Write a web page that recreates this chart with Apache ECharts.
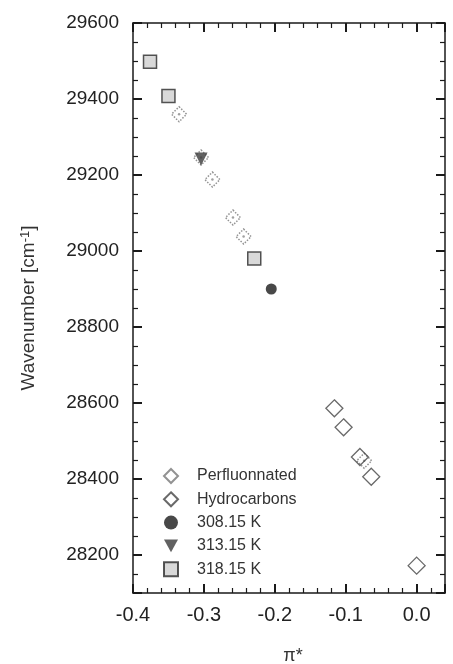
<!DOCTYPE html>
<html>
<head>
<meta charset="utf-8">
<script src="https://cdn.jsdelivr.net/npm/echarts@6/dist/echarts.min.js"></script>
<style>html,body{margin:0;padding:0;background:#fff}#c{width:453px;height:664px}</style>
</head>
<body>
<div id="c"></div>
<script>
// ---- data ----
const perfluorinated = [[-0.335, 29360], [-0.304, 29246], [-0.288, 29188], [-0.259, 29088], [-0.244, 29038], [-0.074, 28448]];
const hydrocarbons = [[-0.116, 28586], [-0.103, 28536], [-0.080, 28458], [-0.064, 28406], [0.0, 28172]];
const k308 = [[-0.205, 28900]];
const k313 = [[-0.304, 29242]];
const k318 = [[-0.376, 29498], [-0.350, 29408], [-0.229, 28980]];
const seriesNames = ['Perfluonnated', 'Hydrocarbons', '308.15 K', '313.15 K', '318.15 K'];
const xRange = [-0.4, 0.04];
const yRange = [28100, 29600];
const yTitle = 'Wavenumber [cm';
const xTitle = 'π*';

const chart = echarts.init(document.getElementById('c'), null, {renderer: 'canvas'});
const font = 'Liberation Sans, Arial, sans-serif';
const frame = '#1a1a1a';

function xAxisDef(pos, labels) {
  return {
    type: 'value', position: pos, min: xRange[0], max: xRange[1], interval: 0.1,
    axisLine: {show: true, onZero: false, lineStyle: {color: frame, width: 1.5}},
    axisTick: {show: true, inside: true, length: 9, lineStyle: {color: frame, width: 2}},
    minorTick: {show: true, splitNumber: 5, length: 5, lineStyle: {color: frame, width: 1.2}},
    axisLabel: {show: labels, margin: 12, color: '#222', fontSize: 20, fontFamily: font,
      formatter: v => Math.abs(v * 10 - Math.round(v * 10)) < 1e-6 ? v.toFixed(1) : ''},
    splitLine: {show: false}, minorSplitLine: {show: false}
  };
}
function yAxisDef(pos, labels) {
  return {
    type: 'value', position: pos, min: yRange[0], max: yRange[1], splitNumber: 7,
    axisLine: {show: true, onZero: false, lineStyle: {color: frame, width: 1.5}},
    axisTick: {show: true, inside: true, length: 9, lineStyle: {color: frame, width: 2}},
    minorTick: {show: true, splitNumber: 4, length: 5, lineStyle: {color: frame, width: 1.2}},
    axisLabel: {show: labels, margin: 14, color: '#222', fontSize: 19, fontFamily: font,
      formatter: v => (Math.round(v) % 200 === 0 ? String(Math.round(v)) : '')},
    splitLine: {show: false}, minorSplitLine: {show: false}
  };
}

const option = {
  backgroundColor: '#fff',
  animation: false,
  grid: {left: 133, right: 8, top: 23, bottom: 71, containLabel: false},
  xAxis: [xAxisDef('bottom', true), xAxisDef('top', false)],
  yAxis: [yAxisDef('left', true), yAxisDef('right', false)],
  legend: {
    orient: 'vertical', left: 158, top: 463, itemWidth: 14, itemHeight: 14, itemGap: 7.3,
    data: [
      {name: seriesNames[0]},
      {name: seriesNames[1]},
      {name: seriesNames[2]},
      {name: seriesNames[3], icon: 'path://M0,0 L12,0 L6,11 Z'},
      {name: seriesNames[4]}
    ],
    textStyle: {fontSize: 16, fontFamily: font, color: '#333', padding: [0, 0, 0, 14]}
  },
  graphic: [
    {type: 'text', x: 29, y: 308, rotation: Math.PI / 2,
      style: {text: yTitle + '{sup|-1}]', fontSize: 19, fontFamily: font, fill: '#333',
        align: 'center', verticalAlign: 'middle',
        rich: {sup: {fontSize: 13, fontFamily: font, fill: '#333', verticalAlign: 'top', padding: [0, 0, 8, 0]}}}},
    {type: 'text', x: 293, y: 656,
      style: {text: xTitle, fontSize: 18, fontFamily: font, fill: '#333', align: 'center', verticalAlign: 'middle'}}
  ],
  series: [
    {name: seriesNames[0], type: 'scatter', data: perfluorinated, symbol: 'diamond', symbolSize: 15,
      itemStyle: {color: '#fff', borderColor: '#777', borderWidth: 1.5, borderType: 'dotted'}, z: 3},
    {name: 'pf-centre', type: 'scatter', data: perfluorinated,
      symbol: 'circle', symbolSize: 2.5, itemStyle: {color: '#888'}, silent: true, z: 3},
    {name: seriesNames[1], type: 'scatter', data: hydrocarbons, symbol: 'diamond', symbolSize: 17,
      itemStyle: {color: 'rgba(255,255,255,0)', borderColor: '#444', borderWidth: 1.3}, z: 4},
    {name: seriesNames[2], type: 'scatter', data: k308, symbol: 'circle', symbolSize: 11,
      itemStyle: {color: '#1a1a1a'}, z: 5},
    {name: seriesNames[3], type: 'scatter', data: k313, symbol: 'triangle', symbolRotate: 180, symbolSize: 13,
      itemStyle: {color: '#3a3a3a'}, z: 5},
    {name: seriesNames[4], type: 'scatter', data: k318, symbol: 'rect', symbolSize: 13,
      itemStyle: {color: '#cfcfcf', borderColor: '#2a2a2a', borderWidth: 1.5}, z: 5}
  ]
};
chart.setOption(option);
</script>
</body>
</html>
